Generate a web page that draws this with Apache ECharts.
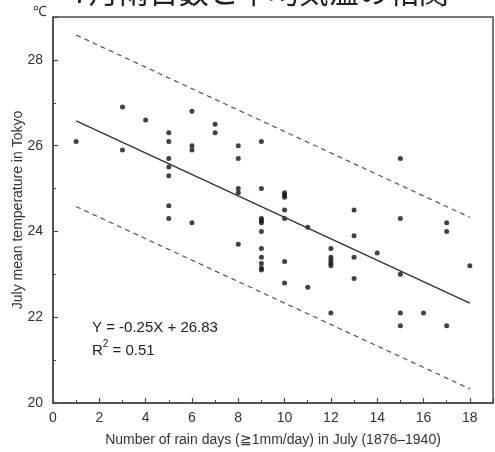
<!DOCTYPE html>
<html>
<head>
<meta charset="utf-8">
<script src="https://cdn.jsdelivr.net/npm/echarts@6/dist/echarts.min.js"></script>
<style>
  html, body { margin: 0; padding: 0; background: #fff; }
  #chart { width: 495px; height: 452px; }
</style>
</head>
<body>
<div id="chart"></div>
<script>
// Rain days in July (x) and Tokyo July mean temperature (y), one point per year
const rainDays = [
  1,
  3, 3,
  4,
  5, 5, 5, 5, 5, 5, 5,
  6, 6, 6, 6,
  7, 7,
  8, 8, 8, 8, 8,
  9, 9, 9, 9, 9, 9, 9, 9, 9, 9, 9,
  10, 10, 10, 10, 10, 10, 10,
  11, 11,
  12, 12, 12, 12, 12, 12,
  13, 13, 13, 13,
  14,
  15, 15, 15, 15, 15,
  16,
  17, 17, 17,
  18
];
const julyTemp = [
  26.1,
  26.9, 25.9,
  26.6,
  26.3, 26.1, 25.7, 25.5, 25.3, 24.6, 24.3,
  26.8, 26.0, 25.9, 24.2,
  26.5, 26.3,
  26.0, 25.7, 25.0, 24.9, 23.7,
  26.1, 25.0, 24.3, 24.25, 24.2, 24.0, 23.6, 23.4, 23.25, 23.15, 23.1,
  24.9, 24.85, 24.8, 24.5, 24.3, 23.3, 22.8,
  24.1, 22.7,
  23.6, 23.4, 23.33, 23.26, 23.2, 22.1,
  24.5, 23.9, 23.4, 22.9,
  23.5,
  25.7, 24.3, 23.0, 22.1, 21.8,
  22.1,
  24.2, 24.0, 21.8,
  23.2
];

// Fitted regression Y = slope * X + intercept, with a ±band envelope
const slope = -0.25;
const intercept = 26.83;
const band = 2.0;
const fitRange = [1, 18];
const rSquared = '0.51';

const xTicks = [0, 19];   // axis extent
const yTicks = [20, 29];

const points = rainDays.map((d, i) => [d, julyTemp[i]]);
const fitAt = x => slope * x + intercept;
const fitLine = fitRange.map(x => [x, fitAt(x)]);
const upperLine = fitRange.map(x => [x, fitAt(x) + band]);
const lowerLine = fitRange.map(x => [x, fitAt(x) - band]);

const axisColor = '#4a4a4a';
const textColor = '#333';
const font = '"Liberation Sans", Arial, sans-serif';

const chart = echarts.init(document.getElementById('chart'), null, { renderer: 'canvas' });

chart.setOption({
  animation: false,
  backgroundColor: '#fff',
  textStyle: { fontFamily: font },
  grid: {
    left: 53, right: 2, top: 17, bottom: 49,
    show: true,
    borderColor: axisColor,
    borderWidth: 1.5
  },
  graphic: [
    {
      type: 'text', left: 72, top: -23, silent: true,
      style: {
        text: '7月雨日数と平均気温の相関',
        font: '30px "Noto Sans CJK JP"',
        fill: '#222'
      }
    },
    {
      type: 'text', left: 33, top: 5, silent: true,
      style: { text: '℃', font: '14px ' + font, fill: textColor }
    },
    {
      type: 'text', left: 92, top: 320, silent: true,
      style: {
        text: '{t|Y = ' + slope.toFixed(2) + 'X + ' + intercept.toFixed(2) + '}\n{t|R}{s|2}{t| = ' + rSquared + '}',
        rich: {
          t: { fontSize: 15, fontFamily: font, fill: '#222', lineHeight: 23 },
          s: { fontSize: 10, fontFamily: font, fill: '#222', verticalAlign: 'top', lineHeight: 23, padding: [0, 0, 6, 0] }
        }
      }
    }
  ],
  xAxis: {
    type: 'value',
    min: xTicks[0], max: xTicks[1], interval: 2,
    name: 'Number of rain days (≧1mm/day) in July (1876–1940)',
    nameLocation: 'middle',
    nameGap: 30,
    nameMoveOverlap: false,
    nameTextStyle: { fontSize: 14, color: textColor, fontFamily: font },
    axisLine: { show: true, lineStyle: { color: axisColor, width: 1.5 } },
    axisTick: { show: true, inside: true, length: 5, lineStyle: { color: axisColor, width: 1.2 } },
    minorTick: { show: true, splitNumber: 2, length: 3, lineStyle: { color: axisColor, width: 1 } },
    axisLabel: { fontSize: 14, color: textColor, margin: 8, showMaxLabel: false, fontFamily: font },
    splitLine: { show: false }
  },
  yAxis: {
    type: 'value',
    min: yTicks[0], max: yTicks[1], interval: 2,
    name: 'July mean temperature in Tokyo',
    nameLocation: 'middle',
    nameGap: 28,
    nameMoveOverlap: false,
    nameTextStyle: { fontSize: 14, color: textColor, fontFamily: font },
    axisLine: { show: true, lineStyle: { color: axisColor, width: 1.5 } },
    axisTick: { show: true, inside: true, length: 5, lineStyle: { color: axisColor, width: 1.2 } },
    minorTick: { show: true, splitNumber: 2, length: 3, lineStyle: { color: axisColor, width: 1 } },
    axisLabel: { fontSize: 14, color: textColor, margin: 10, showMaxLabel: false, fontFamily: font },
    splitLine: { show: false }
  },
  series: [
    {
      type: 'line', data: upperLine, symbol: 'none', silent: true,
      lineStyle: { color: '#555', width: 1.2, type: [5, 4] }
    },
    {
      type: 'line', data: lowerLine, symbol: 'none', silent: true,
      lineStyle: { color: '#555', width: 1.2, type: [5, 4] }
    },
    {
      type: 'line', data: fitLine, symbol: 'none', silent: true,
      lineStyle: { color: '#333', width: 1.4 }
    },
    {
      type: 'scatter', data: points, symbol: 'circle', symbolSize: 5,
      itemStyle: { color: '#111' }
    }
  ]
});
</script>
</body>
</html>
